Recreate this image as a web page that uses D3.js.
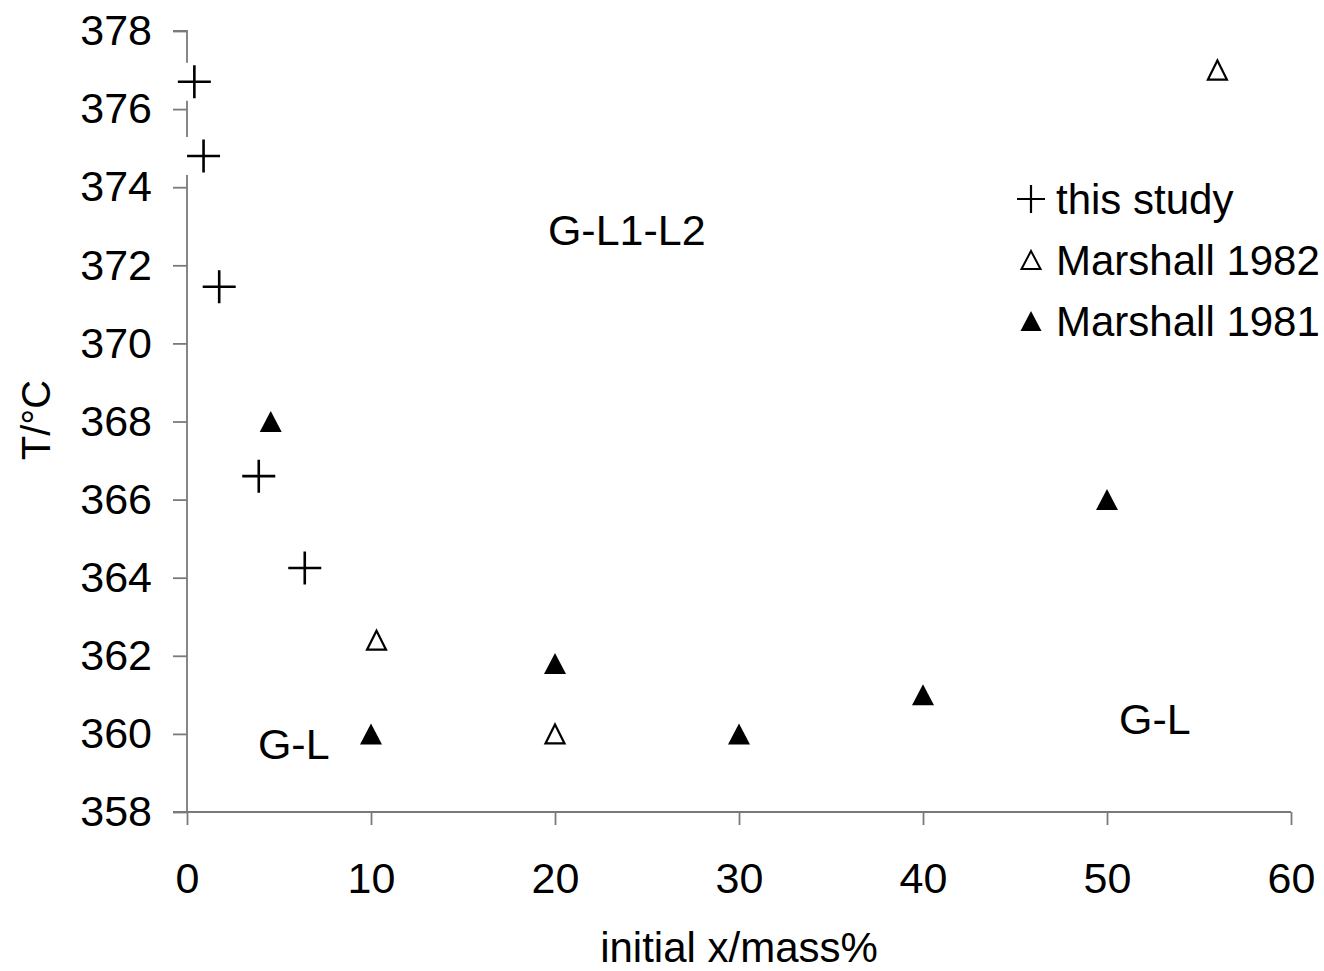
<!DOCTYPE html>
<html>
<head>
<meta charset="utf-8">
<script src="https://cdn.jsdelivr.net/npm/d3@7"></script>
<style>
  body { margin: 0; background: #fff; }
  svg { display: block; font-family: "Liberation Sans", Arial, sans-serif; }
</style>
</head>
<body>
<svg id="chart" width="1324" height="971"></svg>
<script>
// Data
const thisStudyX = [0.4, 0.9, 1.75, 3.9, 6.4];
const thisStudyT = [376.7, 374.8, 371.45, 366.6, 364.25];
const marshall1982X = [56, 10.3, 20];
const marshall1982T = [377.0, 362.4, 360.0];
const marshall1981X = [4.55, 10, 20, 30, 40, 50];
const marshall1981T = [368.0, 360.0, 361.8, 360.0, 361.0, 366.0];
const xTicks = [0, 10, 20, 30, 40, 50, 60];
const yTicks = [358, 360, 362, 364, 366, 368, 370, 372, 374, 376, 378];
const regionLabels = [
  { text: "G-L1-L2", x: 23.9, t: 372.8 },
  { text: "G-L", x: 5.8, t: 359.65 },
  { text: "G-L", x: 52.6, t: 360.3 }
];
const legendItems = [
  { label: "this study", type: "plus" },
  { label: "Marshall 1982", type: "open" },
  { label: "Marshall 1981", type: "filled" }
];

const svg = d3.select("#chart");
const x = d3.scaleLinear().domain([0, 60]).range([187, 1291]);
const y = d3.scaleLinear().domain([358, 378]).range([812, 31]);
const axisColor = "#7a7a7a";
const fontSize = 43;

// Axes
const yAxis = svg.append("g").attr("transform", `translate(${x(0)},0)`)
  .call(d3.axisLeft(y).tickValues(yTicks).tickSize(14).tickPadding(21).tickFormat(d3.format("d")));
const xAxis = svg.append("g").attr("transform", `translate(0,${y(358)})`)
  .call(d3.axisBottom(x).tickValues(xTicks).tickSize(13).tickPadding(37).tickFormat(d3.format("d")));
[xAxis, yAxis].forEach(g => {
  g.select(".domain").attr("stroke", axisColor).attr("stroke-width", 1.8);
  g.selectAll(".tick line").attr("stroke", axisColor).attr("stroke-width", 1.8);
  g.selectAll("text").attr("fill", "#000").style("font-size", fontSize + "px")
    .style("font-family", "'Liberation Sans', Arial, sans-serif");
});
yAxis.select(".domain").attr("d", `M-14,${y(378)}H0V${y(358)}`);
xAxis.select(".domain").attr("d", `M${x(0) - 14},0H${x(60)}`);

// Axis titles
svg.append("text").attr("x", (x(0) + x(60)) / 2).attr("y", 962)
  .attr("text-anchor", "middle").style("font-size", "42px").text("initial x/mass%");
svg.append("text").attr("transform", `translate(50,420) rotate(-90)`)
  .attr("text-anchor", "middle").style("font-size", "40px").text("T/°C");

// Marker generators
function plusPath(s) { return `M${-s},0H${s}M0,${-s}V${s}`; }
function triPath(w, h) { return `M0,${-h/2}L${w/2},${h/2}L${-w/2},${h/2}Z`; }

// this study (plus) with white background
const plusG = svg.append("g");
const tsData = thisStudyX.map((d, i) => ({ x: d, t: thisStudyT[i] }));
plusG.selectAll("rect").data(tsData).join("rect")
  .attr("x", d => x(d.x) - 19).attr("y", d => y(d.t) - 19)
  .attr("width", 38).attr("height", 38).attr("fill", "#fff");
plusG.selectAll("path").data(tsData).join("path")
  .attr("transform", d => `translate(${x(d.x)},${y(d.t)})`)
  .attr("d", plusPath(16.5)).attr("stroke", "#000").attr("stroke-width", 2.6).attr("fill", "none");

// Marshall 1982 open triangles
svg.append("g").selectAll("path")
  .data(marshall1982X.map((d, i) => ({ x: d, t: marshall1982T[i] })))
  .join("path")
  .attr("transform", d => `translate(${x(d.x)},${y(d.t)})`)
  .attr("d", triPath(19, 19)).attr("fill", "#fff").attr("stroke", "#000").attr("stroke-width", 2.2);

// Marshall 1981 filled triangles
svg.append("g").selectAll("path")
  .data(marshall1981X.map((d, i) => ({ x: d, t: marshall1981T[i] })))
  .join("path")
  .attr("transform", d => `translate(${x(d.x)},${y(d.t)})`)
  .attr("d", triPath(22, 21)).attr("fill", "#000");

// Region labels
svg.append("g").selectAll("text").data(regionLabels).join("text")
  .attr("x", d => x(d.x)).attr("y", d => y(d.t))
  .attr("text-anchor", "middle").attr("dominant-baseline", "middle")
  .style("font-size", "43px").text(d => d.text);

// Legend
const lg = svg.append("g");
legendItems.forEach((it, i) => {
  const cy = 199 + i * 61;
  const g = lg.append("g").attr("transform", `translate(1031,${cy})`);
  if (it.type === "plus") {
    g.append("path").attr("d", plusPath(14)).attr("stroke", "#000").attr("stroke-width", 2.2);
  } else if (it.type === "open") {
    g.append("path").attr("d", triPath(19, 18)).attr("fill", "#fff").attr("stroke", "#000").attr("stroke-width", 2);
  } else {
    g.append("path").attr("d", triPath(21, 20)).attr("fill", "#000");
  }
  lg.append("text").attr("x", 1056).attr("y", cy + 15).style("font-size", "42px").text(it.label);
});
</script>
</body>
</html>
